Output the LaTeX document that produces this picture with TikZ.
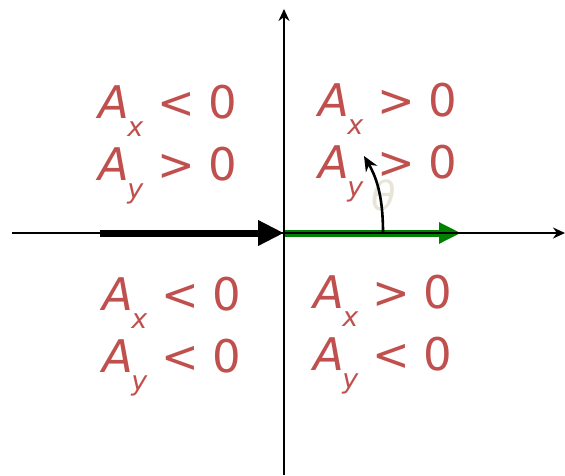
\documentclass[tikz,border=0pt]{standalone}
\usepackage{fontspec}
\setmainfont{DejaVu Sans}
\usetikzlibrary{arrows.meta}
\definecolor{lab}{RGB}{192,80,77}
\definecolor{thetac}{RGB}{232,228,214}
\definecolor{vgreen}{RGB}{0,128,0}
\newcommand{\comp}[3]{\textit{#1}\hspace{-0.05em}\raisebox{-0.4em}{\fontsize{27}{27}\selectfont\textit{#2}}\hspace{0.3em}#3}
\tikzset{
  lbl/.style={text=lab, font=\fontsize{45}{62}\selectfont, align=left, inner sep=0pt},
  axis/.style={line width=1.8pt, -{Stealth[length=12pt,width=11pt]}},
}
\begin{document}
\begin{tikzpicture}[x=1pt,y=-1pt]
\useasboundingbox (0,0) rectangle (565,475);
\coordinate (xl) at (12,233);
\coordinate (xr) at (565,233);
\coordinate (yb) at (284,475);
\coordinate (yt) at (284,9);
\coordinate (o) at (284,233);
\coordinate (bs) at (100,233);
\coordinate (ge) at (461,233);
\coordinate (cs) at (383,233);
\coordinate (ce) at (364,156);
% green vector
\draw[vgreen, line width=7pt, -{Triangle[length=22pt,width=20pt]}] (o) -- (ge);
% axes
\draw[axis] (xl) -- (xr);
\draw[axis] (yb) -- (yt);
% black vector
\draw[black, line width=7pt, -{Triangle[length=26pt,width=24pt]}] (bs) -- (o);
% angle arrow
\node[text=thetac, font=\fontsize{40}{40}\selectfont\itshape] (th) at (384,195) {θ};
\draw[line width=2.6pt, -{Stealth[length=15pt,width=13pt]}] (cs) .. controls (383,200) and (378,180) .. (ce);
% labels
\node[lbl] (q2) at (168,145) {\comp{A}{x}{<}\hspace{0.3em}0\\\comp{A}{y}{>}\hspace{0.3em}0};
\node[lbl] (q1) at (388,143) {\comp{A}{x}{>}\hspace{0.3em}0\\\comp{A}{y}{>}\hspace{0.3em}0};
\node[lbl] (q3) at (172,337) {\comp{A}{x}{<}\hspace{0.3em}0\\\comp{A}{y}{<}\hspace{0.3em}0};
\node[lbl] (q4) at (383,335) {\comp{A}{x}{>}\hspace{0.3em}0\\\comp{A}{y}{<}\hspace{0.3em}0};
\end{tikzpicture}
\end{document}
